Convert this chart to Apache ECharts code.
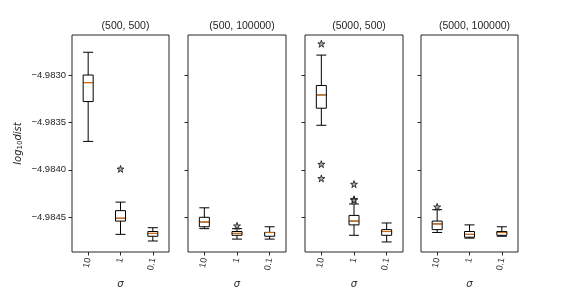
<!DOCTYPE html>
<html><head><meta charset="utf-8">
<script src="https://cdn.jsdelivr.net/npm/echarts@6/dist/echarts.min.js"></script>
<style>html,body{margin:0;padding:0;background:#fff}#c{width:576px;height:288px}</style>
</head><body><div id="c"></div>
<script>
const panelTitles = ['(500, 500)', '(500, 100000)', '(5000, 500)', '(5000, 100000)'];
const sigmaLabels = ['10', '1', '0.1'];
const yTicks = [-4.9845, -4.9840, -4.9835, -4.9830];
// [min, Q1, median, Q3, max] per sigma
const box500_500 = [
  [-4.98370, -4.98328, -4.98308, -4.98300, -4.98276],
  [-4.98468, -4.98454, -4.98451, -4.98443, -4.98434],
  [-4.98475, -4.98470, -4.98467, -4.98465, -4.98461]
];
const box500_100000 = [
  [-4.98462, -4.98460, -4.98455, -4.98450, -4.98440],
  [-4.98473, -4.98469, -4.98467, -4.98465, -4.98462],
  [-4.98473, -4.98470, -4.98466, -4.98466, -4.98460]
];
const box5000_500 = [
  [-4.98353, -4.98335, -4.98321, -4.98311, -4.98279],
  [-4.98469, -4.98458, -4.98454, -4.98448, -4.98436],
  [-4.98476, -4.98469, -4.98465, -4.98463, -4.98456]
];
const box5000_100000 = [
  [-4.98466, -4.98463, -4.98457, -4.98454, -4.98442],
  [-4.98472, -4.98471, -4.98468, -4.98465, -4.98458],
  [-4.98470, -4.98469, -4.98466, -4.98465, -4.98460]
];
// outliers [sigma index, value]
const out500_500 = [[1, -4.98399]];
const out500_100000 = [[1, -4.98459]];
const out5000_500 = [[0, -4.98267], [0, -4.98394], [0, -4.98409], [1, -4.98415], [1, -4.98431], [1, -4.98432]];
const out5000_100000 = [[0, -4.98439]];

const boxes = [box500_500, box500_100000, box5000_500, box5000_100000];
const outs = [out500_500, out500_100000, out5000_500, out5000_100000];
const yMin = -4.984866, yMax = -4.982578;

const gLefts = [72, 188, 305, 421];
const gWidths = [97, 98, 98, 97];
const gTop = 35, gHeight = 217;
const ink = '#262626';
const star = 'path://M0,-1 L0.2245,-0.309 L0.951,-0.309 L0.363,0.118 L0.588,0.809 L0,0.382 L-0.588,0.809 L-0.363,0.118 L-0.951,-0.309 L-0.2245,-0.309 Z';

const grid = [], xAxis = [], yAxis = [], series = [], title = [];
for (let i = 0; i < 4; i++) {
  grid.push({left: gLefts[i], top: gTop, width: gWidths[i], height: gHeight, show: true, borderColor: ink, borderWidth: 1,
    backgroundColor: 'transparent', containLabel: false, outerBoundsMode: 'none'});
  title.push({text: panelTitles[i], left: gLefts[i] + gWidths[i] / 2, top: 16, textAlign: 'center',
    textStyle: {fontFamily: 'Liberation Sans', fontSize: 10.5, fontWeight: 'normal', color: ink}});
  xAxis.push({type: 'category', gridIndex: i, data: sigmaLabels, boundaryGap: true,
    name: 'σ', nameLocation: 'middle', nameGap: 27,
    nameTextStyle: {fontFamily: 'DejaVu Sans', fontStyle: 'italic', fontSize: 10, color: ink},
    axisLine: {show: false}, splitLine: {show: false},
    axisTick: {show: true, alignWithLabel: true, length: 3.5, lineStyle: {color: ink}},
    axisLabel: {rotate: 80, margin: 6, fontFamily: 'Liberation Sans', fontSize: 9, color: ink}});
  yAxis.push({type: 'value', gridIndex: i, min: yMin, max: yMax, scale: true,
    name: i === 0 ? '{a|log}{b|10}{a|dist}' : '', nameLocation: 'middle', nameGap: 48, nameRotate: 90,
    nameTextStyle: {rich: {a: {fontFamily: 'DejaVu Sans', fontStyle: 'italic', fontSize: 10, color: ink},
                           b: {fontFamily: 'DejaVu Sans', fontSize: 7, color: ink, verticalAlign: 'bottom', padding: [4, 0, 0, 0]}}},
    axisLine: {show: false}, splitLine: {show: false},
    axisTick: {show: true, length: 3.5, lineStyle: {color: ink}, customValues: yTicks},
    axisLabel: {show: i === 0, customValues: yTicks, margin: 6, fontFamily: 'Liberation Sans', fontSize: 9.5, color: ink,
      formatter: v => '\u2212' + Math.abs(v).toFixed(4)}});
  series.push({type: 'boxplot', xAxisIndex: i, yAxisIndex: i, data: boxes[i], boxWidth: [10, 10],
    itemStyle: {color: '#fff', borderColor: '#000', borderWidth: 1}, silent: true, animation: false});
  series.push({type: 'scatter', xAxisIndex: i, yAxisIndex: i, data: boxes[i].map((b, k) => [k, b[2]]),
    symbol: 'rect', symbolSize: [9, 1.2], itemStyle: {color: '#ff7f0e'}, silent: true, animation: false, z: 5});
  series.push({type: 'scatter', xAxisIndex: i, yAxisIndex: i, data: outs[i], symbol: star, symbolSize: 7,
    itemStyle: {color: '#999', borderColor: '#111', borderWidth: 1}, silent: true, animation: false, z: 6});
}
const chart = echarts.init(document.getElementById('c'), null, {renderer: 'canvas'});
chart.setOption({animation: false, title, grid, xAxis, yAxis, series});
</script></body></html>
